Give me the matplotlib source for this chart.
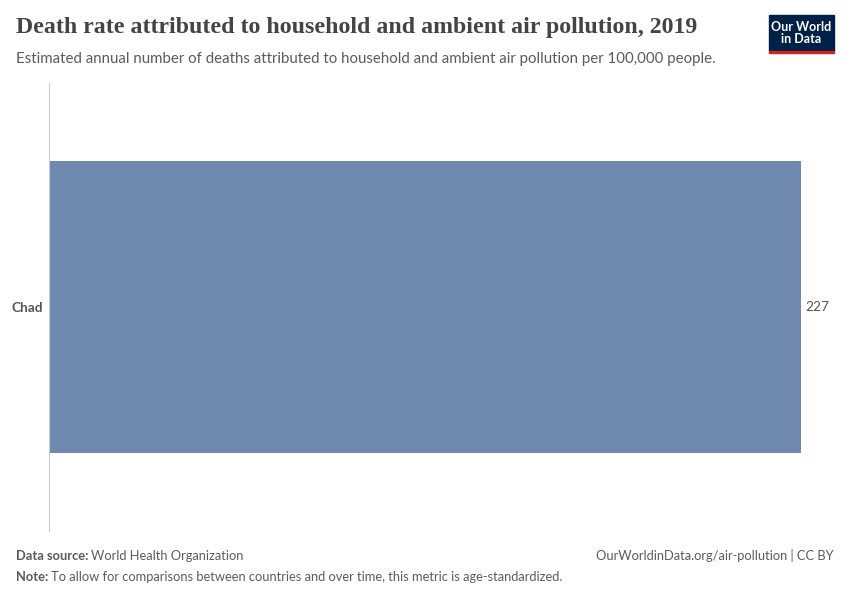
import matplotlib.pyplot as plt
from matplotlib.patches import Rectangle

countries = ["Chad"]
death_rate = [227]

plt.rcParams['font.family'] = ['Lato', 'DejaVu Sans']

fig = plt.figure(figsize=(8.5, 6), dpi=100)
ax = fig.add_axes([49 / 850, 1 - 531 / 600, (801 - 49) / 850, (531 - 83) / 600])

bars = ax.barh(countries, death_rate, height=0.65, color='#6f88b0')
ax.set_xlim(0, max(death_rate))
ax.set_ylim(-0.5, 0.5)

for s in ['top', 'right', 'bottom']:
    ax.spines[s].set_visible(False)
ax.spines['left'].set_color('#cccccc')
ax.set_xticks([])
ax.tick_params(axis='y', length=0, pad=4)
for lbl in ax.get_yticklabels():
    lbl.set_fontweight('bold')
    lbl.set_fontsize(9.8)
    lbl.set_color('#555555')

for b, v in zip(bars, death_rate):
    ax.text(v + 1.3, b.get_y() + b.get_height() / 2, f"{v}", va='center', ha='left',
            fontsize=9.8, color='#555555', clip_on=False)

# title and subtitle
fig.text(16 / 850, 1 - 28 / 600, "Death rate attributed to household and ambient air pollution, 2019",
         family=['Liberation Serif', 'DejaVu Serif'], fontsize=17.2, fontweight='bold',
         color='#444444', va='center')
fig.text(16 / 850, 1 - 59 / 600,
         "Estimated annual number of deaths attributed to household and ambient air pollution per 100,000 people.",
         fontsize=10.8, color='#5b5b5b', va='center')

# logo
fig.patches.append(Rectangle((769 / 850, 1 - 51 / 600), 65 / 850, 36 / 600,
                             transform=fig.transFigure, color='#002147'))
fig.patches.append(Rectangle((769 / 850, 1 - 53 / 600), 65 / 850, 2.5 / 600,
                             transform=fig.transFigure, color='#ce261e'))
fig.text(801 / 850, 1 - 33 / 600, "Our World\nin Data", ha='center', va='center',
         fontsize=9, fontweight='bold', color='white', linespacing=1.0)

# footer
fig.text(16 / 850, 1 - 556 / 600, "Data source:", fontsize=9.3, fontweight='bold', color='#5b5b5b', va='center')
fig.text(91 / 850, 1 - 556 / 600, "World Health Organization", fontsize=9.3, color='#5b5b5b', va='center')
fig.text(834 / 850, 1 - 556 / 600, "OurWorldinData.org/air-pollution | CC BY", fontsize=9.3,
         color='#5b5b5b', va='center', ha='right')
fig.text(16 / 850, 1 - 577 / 600, "Note:", fontsize=9.3, fontweight='bold', color='#5b5b5b', va='center')
fig.text(51 / 850, 1 - 577 / 600,
         "To allow for comparisons between countries and over time, this metric is age-standardized.",
         fontsize=9.3, color='#5b5b5b', va='center')

fig.savefig('out.png', dpi=100)
